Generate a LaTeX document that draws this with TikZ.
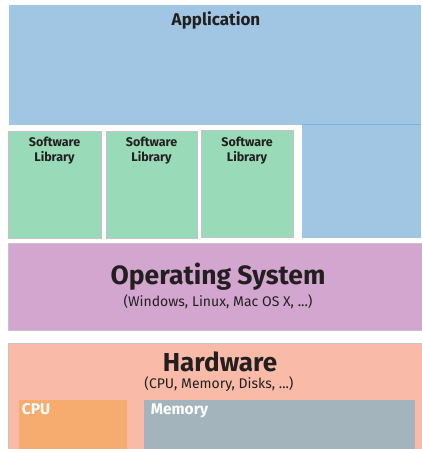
\documentclass[tikz,border=0pt]{standalone}
\usepackage{fontspec}
\setmainfont{Fira Sans}
\usetikzlibrary{positioning}
\definecolor{appblue}{HTML}{A1C6E4}
\definecolor{appedge}{HTML}{7FB0DC}
\definecolor{libgreen}{HTML}{99DAB8}
\definecolor{osviolet}{HTML}{D3A6CF}
\definecolor{hwsalmon}{HTML}{F9BBA8}
\definecolor{cpuorange}{HTML}{F6AB6F}
\definecolor{memgray}{HTML}{A3B4BD}
\definecolor{edgegray}{HTML}{C4C4C4}
\definecolor{inkdark}{HTML}{231F20}
\tikzset{
  block/.style={anchor=north west,inner sep=0pt,outer sep=0pt},
  libbox/.style={block,fill=libgreen,draw=edgegray,line width=0.8pt,minimum width=93pt,minimum height=107pt},
  libtext/.style={font=\bfseries\fontsize{12.5}{15}\selectfont,align=center,text=inkdark,inner sep=0pt},
  bigtitle/.style={font=\bfseries\fontsize{26}{28}\selectfont,text=inkdark,inner sep=0pt},
  subtitle/.style={font=\fontsize{14}{16}\selectfont,text=inkdark,inner sep=0pt},
  parttext/.style={font=\bfseries\fontsize{15.5}{17}\selectfont,text=white,inner sep=0pt,anchor=north west}
}
\begin{document}
\begin{tikzpicture}[x=1pt,y=-1pt]
\useasboundingbox[fill=white] (0,0) rectangle (421,449);
% application layer (top band plus right column)
\node[block,fill=appblue,minimum width=412pt,minimum height=120pt] (app) at (9,5) {};
\node[block,fill=appblue,minimum width=119pt,minimum height=114pt] (appside) at (302,124) {};
\draw[appedge,line width=0.6pt] (appside.north west) -- (appside.north east);
\node[font=\bfseries\fontsize{17}{19}\selectfont,text=inkdark,inner sep=0pt] (apptext) at (216,20) {Application};
% libraries
\node[libbox] (lib1) at (8,131) {};
\node[libbox,minimum width=91pt] (lib2) at (106,131) {};
\node[libbox,minimum width=92pt] (lib3) at (201,130) {};
\node[libtext,below=6pt of lib1.north] (lib1text) {Software\\Library};
\node[libtext,below=6pt of lib2.north] (lib2text) {Software\\Library};
\node[libtext,below=7pt of lib3.north] (lib3text) {Software\\Library};
% operating system
\node[block,fill=osviolet,draw=edgegray,line width=0.8pt,minimum width=416pt,minimum height=87pt] (os) at (8,243) {};
\node[bigtitle,font=\bfseries\fontsize{26.5}{28}\selectfont] (ostext) at (218,277) {Operating System};
\node[subtitle] (ossub) at (218,302) {(Windows, Linux, Mac OS X, ...)};
% hardware
\node[block,fill=hwsalmon,draw=edgegray,line width=0.8pt,minimum width=416pt,minimum height=110pt] (hw) at (8,343) {};
\node[bigtitle] (hwtext) at (220,362) {Hardware};
\node[subtitle] (hwsub) at (219,384) {(CPU, Memory, Disks, ...)};
\node[block,fill=cpuorange,minimum width=108pt,minimum height=52pt] (cpu) at (19,400) {};
\node[block,fill=memgray,minimum width=271pt,minimum height=52pt] (mem) at (144,400) {};
\node[parttext] (cputext) at ([shift={(2.7pt,-3.5pt)}]cpu.north west) {CPU};
\node[parttext] (memtext) at ([shift={(6.7pt,-3.5pt)}]mem.north west) {Memory};
\end{tikzpicture}
\end{document}
